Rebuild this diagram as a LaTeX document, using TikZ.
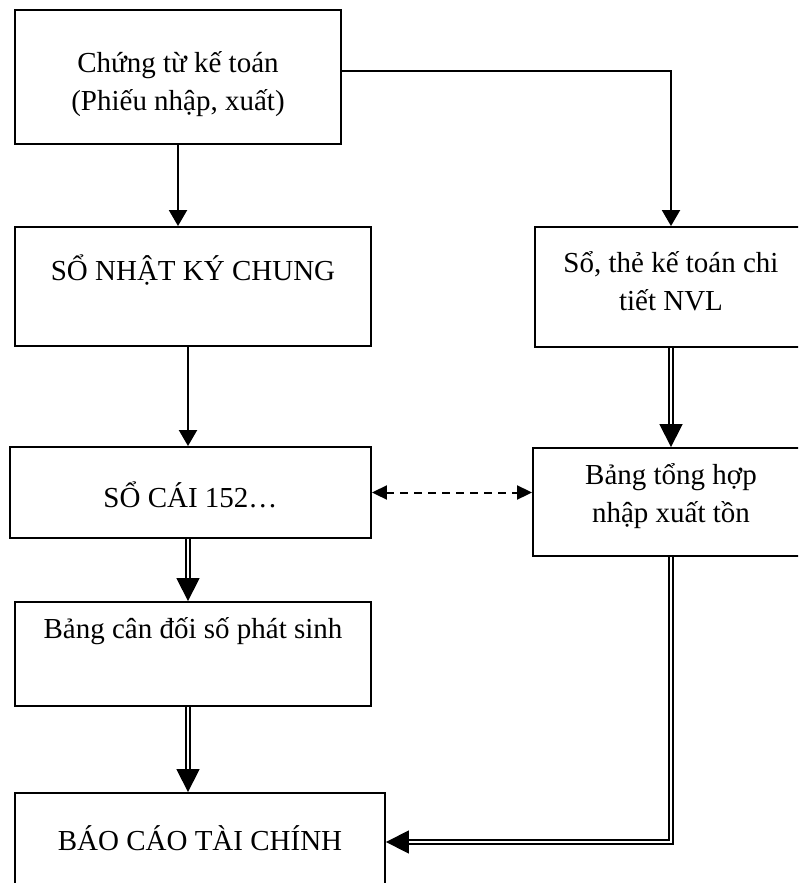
\documentclass[tikz,border=0pt]{standalone}
\usepackage{fontspec}
\setmainfont{Liberation Serif}
\usetikzlibrary{arrows.meta}

\begin{document}
\begin{tikzpicture}[x=1pt, y=-1pt, font=\fontsize{29}{38}\selectfont,
    box/.style={draw, line width=1.9pt, inner sep=0pt},
    txt/.style={align=center, inner sep=0pt},
    flow/.style={line width=2pt, -{Triangle[length=16pt, width=18pt]}},
    dbl/.style={double, double distance=2.6pt, line width=1.7pt,
                -{Triangle[length=23pt, width=23pt]}},
    link/.style={line width=2pt, dash pattern=on 8pt off 6pt,
                 {Triangle[length=15pt, width=14pt]}-{Triangle[length=15pt, width=14pt]}}]
    \useasboundingbox (0,0) rectangle (798,883);
    \clip (0,0) rectangle (798,883);

    % left column
    \node[box, minimum width=326pt, minimum height=134pt] (ct) at (178,77) {};
    \node[txt] (ctT) at (178,84) {Chứng từ kế toán\\(Phiếu nhập, xuất)};
    \node[box, minimum width=356pt, minimum height=119pt] (nkc) at (193,286.5) {};
    \node[txt] (nkcT) at (193,270) {SỔ NHẬT KÝ CHUNG};
    \node[box, minimum width=361pt, minimum height=91pt] (sc) at (190.5,492.5) {};
    \node[txt] (scT) at (190.5,495) {SỔ CÁI 152…};
    \node[box, minimum width=356pt, minimum height=104pt] (cd) at (193,654) {};
    \node[txt] (cdT) at (193,631) {Bảng cân đối số phát sinh};
    \node[box, minimum width=370pt, minimum height=98pt] (bc) at (200,842) {};
    \node[txt] (bcT) at (200,838) {BÁO CÁO TÀI CHÍNH};

    % right column
    \node[box, minimum width=272pt, minimum height=120pt] (st) at (671,287) {};
    \node[txt] (stT) at (671,281) {Sổ, thẻ kế toán chi\\tiết NVL};
    \node[box, minimum width=276pt, minimum height=108pt] (th) at (671,502) {};
    \node[txt] (thT) at (671,496) {Bảng tổng hợp\\nhập xuất tồn};

    % connectors
    \draw[flow] (ct.south) -- (ct.south |- nkc.north);
    \draw[flow] ([yshift=6pt]ct.east) -| (st.north);
    \draw[flow] ([xshift=-5pt]nkc.south) -- ([xshift=-5pt]nkc.south |- sc.north);
    \draw[dbl] ([xshift=-2.5pt]sc.south) -- ([xshift=-2.5pt]sc.south |- cd.north);
    \draw[dbl] ([xshift=-5pt]cd.south) -- ([xshift=-5pt]cd.south |- bc.north);
    \draw[dbl] (st.south) -- (th.north);
    \draw[dbl] (th.south) |- (bc.east);
    \draw[link] (sc.east) -- (sc.east -| th.west);
\end{tikzpicture}
\end{document}
